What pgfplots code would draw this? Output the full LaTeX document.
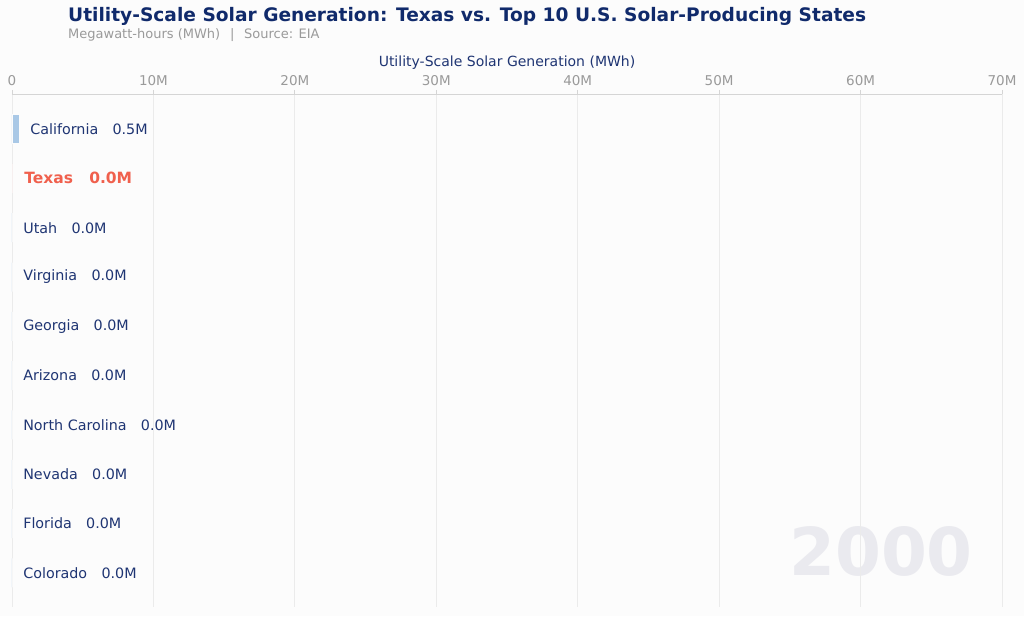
\documentclass[border=0pt]{standalone}
\usepackage{fontspec}
\setmainfont{DejaVu Sans}
\usepackage{pgfplots}
\pgfplotsset{compat=1.18}
\definecolor{bg}{HTML}{FCFCFC}
\definecolor{navy}{HTML}{102A6B}
\definecolor{labc}{HTML}{1F3573}
\definecolor{texc}{HTML}{F0604D}
\definecolor{calc}{HTML}{A9C8E6}
\definecolor{tickc}{HTML}{9A9A9A}
\definecolor{gridc}{HTML}{EBEBEB}
\definecolor{yearc}{HTML}{EAEAEF}
\begin{document}
\begin{tikzpicture}[x=1pt,y=1pt]
\fill[bg] (0,0) rectangle (1024,616);
% watermark year
\node[anchor=base,inner sep=0,text=yearc,font=\fontsize{66}{66}\selectfont\bfseries] at (881,41) {2000};
\begin{axis}[
  at={(12pt,9pt)}, anchor=south west,
  scale only axis, width=990pt, height=513pt,
  xmin=0, xmax=70, ymin=-0.71, ymax=9.69, y dir=reverse,
  axis x line*=top, axis y line=none,
  x axis line style={-,draw=gridc!80!gray,line width=0.8pt},
  xtick={0,10,20,30,40,50,60,70},
  xticklabels={0,10M,20M,30M,40M,50M,60M,70M},
  tick align=outside, major tick length=4pt,
  xtick style={draw=gridc!80!gray,line width=0.8pt},
  xticklabel style={font=\fontsize{13.5}{13.5}\selectfont,text=tickc,anchor=base,yshift=4pt},
  /pgf/number format/assume math mode=true,
  ytick=\empty,
  xmajorgrids, grid style={draw=gridc,line width=0.8pt},
  xlabel={Utility-Scale Solar Generation (MWh)},
  xlabel style={at={(axis description cs:0.5,1)},anchor=base,inner sep=0,yshift=27pt,font=\fontsize{14}{14}\selectfont,text=labc},
  xbar, bar width=29pt, bar shift=0pt,
  clip=false,
]
\addplot[xbar, bar shift=0pt, fill=calc, draw=bg, line width=0.6pt,
  point meta=explicit symbolic, nodes near coords,
  nodes near coords style={anchor=west,inner sep=0,xshift=11pt,font=\fontsize{14.3}{14.3}\selectfont,text=labc}]
  coordinates {
  (0.5,0) [California\hspace{1em}0.5M]
  (0,2) [Utah\hspace{1em}0.0M]
  (0,3) [Virginia\hspace{1em}0.0M]
  (0,4) [Georgia\hspace{1em}0.0M]
  (0,5) [Arizona\hspace{1em}0.0M]
  (0,6) [North Carolina\hspace{1em}0.0M]
  (0,7) [Nevada\hspace{1em}0.0M]
  (0,8) [Florida\hspace{1em}0.0M]
  (0,9) [Colorado\hspace{1em}0.0M]
  };
\addplot[xbar, bar shift=0pt, fill=texc, draw=bg, line width=0.6pt,
  point meta=explicit symbolic, nodes near coords,
  nodes near coords style={anchor=west,inner sep=0,xshift=12pt,font=\fontsize{15.5}{15.5}\selectfont\bfseries,text=texc}]
  coordinates {(0,1) [Texas\hspace{1.05em}0.0M]};
\end{axis}
\node[anchor=base west,inner sep=0,text=navy,font=\fontsize{18.6}{18.6}\selectfont\bfseries] at (68,594) {Utility-Scale Solar Generation: Texas vs. Top 10 U.S. Solar-Producing States};
\node[anchor=base west,inner sep=0,text=tickc,font=\fontsize{13}{13}\selectfont] at (68,577) {Megawatt-hours (MWh)\hspace{0.75em}|\hspace{0.75em}Source: EIA};
\pgfresetboundingbox
\path (0,0) rectangle (1024,616);
\end{tikzpicture}
\end{document}
